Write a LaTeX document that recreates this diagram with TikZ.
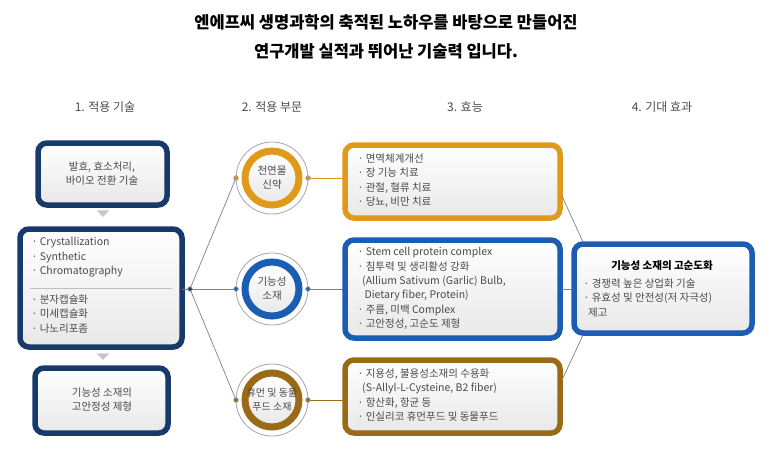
\documentclass[tikz,border=0pt]{standalone}
\usepackage{fontspec}
\setmainfont{Noto Sans CJK KR}
\usetikzlibrary{shapes.geometric}
\definecolor{navy}{HTML}{173A6B}
\definecolor{org}{HTML}{E09A1A}
\definecolor{blu}{HTML}{1B5DB3}
\definecolor{brn}{HTML}{9A6A16}
\definecolor{txt}{HTML}{4A4A4A}
\tikzset{
 box/.style={draw=#1,line width=5.5pt,rounded corners=9pt,top color=white,bottom color=black!9},
 body/.style={text=txt,font=\fontsize{10.5}{14.5}\selectfont,align=left,anchor=north west},
 ctext/.style={text=txt,font=\fontsize{10.5}{14}\selectfont,align=center},
 hdr/.style={text=txt,font=\fontsize{12}{14}\selectfont},
 ring/.style={draw=#1,line width=7pt,top color=white,bottom color=black!9},
 outer/.style={draw=black!35,line width=0.8pt,fill=white},
 conn/.style={draw=black!50,line width=0.7pt},
 pin/.style={circle,draw=black!40,fill=#1,inner sep=1.6pt,line width=0.8pt},
 tri/.style={isosceles triangle,shape border rotate=-90,fill=black!22,inner sep=0pt,minimum width=13pt,minimum height=6pt,isosceles triangle apex angle=90}
}
\begin{document}
\begin{tikzpicture}[x=1pt,y=-1pt]
\useasboundingbox (0,0) rectangle (773,448);
\node[font=\bfseries\fontsize{16.5}{20}\selectfont] (t1) at (386,22) {엔에프씨 생명과학의 축적된 노하우를 바탕으로 만들어진};
\node[font=\bfseries\fontsize{16.5}{20}\selectfont] (t2) at (386,51) {연구개발 실적과 뛰어난 기술력 입니다.};
\node[hdr] (h1) at (105,107) {1. 적용 기술};
\node[hdr] (h2) at (272,107) {2. 적용 부문};
\node[hdr] (h3) at (465,107) {3. 효능};
\node[hdr] (h4) at (662,107) {4. 기대 효과};
% left
\path[box=navy] (38,143) rectangle (167,205);
\node[ctext] (l1) at (102,174) {발효, 효소처리,\\바이오 전환 기술};
\node[tri] (a1) at (103,213) {};
\path[box=navy] (20,229) rectangle (182,347);
\node[body] (l2a) at (28,234) {· Crystallization\\· Synthetic\\· Chromatography};
\draw[black!25] (30,288) -- (172,288);
\node[body] (l2b) at (28,291) {· 분자캡슐화\\· 미세캡슐화\\· 나노리포좀};
\node[tri] (a2) at (103,356) {};
\path[box=navy] (35,368) rectangle (168,433);
\node[ctext] (l3) at (102,400) {기능성 소재의\\고안정성 제형};
\coordinate (hub) at (190,289);
% circles
\foreach \y/\c/\n in {178/org/c1,289/blu/c2,400/brn/c3}{
 \draw[outer] (272,\y) circle (36);
 \path[ring=\c] (272,\y) circle (27);
 \coordinate (\n L) at (236,\y);
 \coordinate (\n R) at (308,\y);
}
\node[ctext] (c1t) at (272,178) {천연물\\신약};
\node[ctext] (c2t) at (272,289) {기능성\\소재};
\node[ctext,font=\fontsize{10}{14}\selectfont] (c3t) at (272,400) {휴먼 및 동물\\푸드 소재};
\draw[conn] (182,289) -- (hub);
\draw[conn] (hub) -- (c1L); \draw[conn] (hub) -- (c2L); \draw[conn] (hub) -- (c3L);
\draw[conn,draw=org] (c1R) -- (345,178);
\draw[conn] (c2R) -- (345,289);
\draw[conn,draw=brn] (c3R) -- (345,400);
% right boxes
\path[box=org] (345,145) rectangle (560,218);
\node[body] (r1) at (354,150) {· 면역체계개선\\· 장 기능 치료\\· 관절, 혈류 치료\\· 당뇨, 비만 치료};
\path[box=blu] (345,240) rectangle (560,338);
\node[body,font=\fontsize{10.5}{14.3}\selectfont] (r2) at (354,244) {· Stem cell protein complex\\· 침투력 및 생리활성 강화\\\ \ (Allium Sativum (Garlic) Bulb,\\\ \ \ Dietary fiber, Protein)\\· 주름, 미백 Complex\\· 고안정성, 고순도 제형};
\path[box=brn] (345,360) rectangle (560,433);
\node[body] (r3) at (354,365) {· 지용성, 불용성소재의 수용화\\\ \ (S-Allyl-L-Cysteine, B2 fiber)\\· 항산화, 항균 등\\· 인실리코 휴먼푸드 및 동물푸드};
\path[box=blu] (574,244) rectangle (752,333);
\node[font=\bfseries\fontsize{10.5}{13}\selectfont] (ft) at (662,266) {기능성 소재의 고순도화};
\node[body] (fb) at (580,275) {· 경쟁력 높은 상업화 기술\\· 유효성 및 안전성(저 자극성)\\\ \ 제고};
\draw[conn] (562,196) -- (583,242);
\draw[conn] (562,289) -- (572,289);
\draw[conn] (562,380) -- (583,335);
\foreach \y/\c/\n in {178/org/c1,289/blu/c2,400/brn/c3}{
 \node[pin=\c] at (\n L) {};
 \node[pin=\c] at (\n R) {};
}
\node[pin=navy] (hd) at (hub) {};
\end{tikzpicture}
\end{document}
